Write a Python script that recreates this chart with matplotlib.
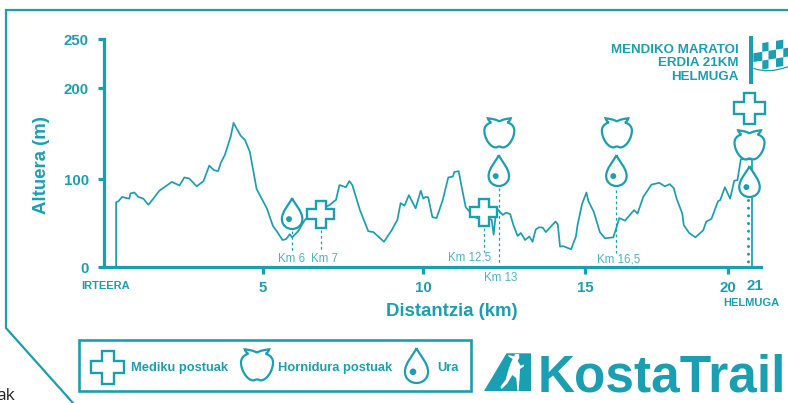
import numpy as np
import matplotlib
matplotlib.use('Agg')
import matplotlib.pyplot as plt
from matplotlib.patches import PathPatch, Polygon, Circle, Rectangle
from matplotlib.path import Path

plt.rcParams['font.family'] = ['Liberation Sans', 'DejaVu Sans']

TEAL = '#1A9FB2'
LIGHT = '#4DB4C4'

# elevation profile
km = [0.41, 0.41, 0.48, 0.60, 0.69, 0.82, 0.86, 0.98, 1.10, 1.26, 1.42, 1.55, 1.76, 2.15, 2.39, 2.54,
      2.69, 2.93, 3.14, 3.32, 3.47, 3.60, 3.68, 3.81, 3.99, 4.08, 4.30, 4.44, 4.59, 4.80, 4.96,
      5.12, 5.31, 5.43, 5.61, 5.72, 5.84, 5.91, 6.10, 6.31, 6.57, 7.09, 7.22, 7.28, 7.39, 7.59,
      7.70, 7.79, 8.03, 8.29, 8.45, 8.78, 9.02, 9.20, 9.30, 9.42, 9.56, 9.77, 9.93, 10.01, 10.08,
      10.16, 10.29, 10.42, 10.61, 10.78, 10.92, 10.97, 11.10, 11.19, 11.32, 11.45, 11.66, 11.97,
      12.12, 12.18, 12.24, 12.30, 12.46, 12.56, 12.69, 12.79, 12.92, 13.02, 13.15, 13.28, 13.38,
      13.48, 13.58, 13.70, 13.79, 14.09, 14.16, 14.23, 14.33, 14.57, 14.72, 14.77, 14.91, 15.05,
      15.12, 15.31, 15.52, 15.70, 15.99, 16.11, 16.20, 16.40, 16.72, 16.84, 17.04, 17.33, 17.60,
      17.80, 17.97, 18.11, 18.21, 18.41, 18.46, 18.65, 18.87, 19.14, 19.25, 19.43, 19.66, 19.74,
      19.90, 20.10, 20.27, 20.40, 20.54, 21.0, 21.0]
altitude = [0, 74, 75, 80, 79, 78, 84, 85, 80, 78, 71, 77, 87, 97, 93, 102,
            101, 92, 98, 115, 110, 109, 118, 127, 147, 162, 148, 143, 130, 89, 78,
            67, 47, 41, 31, 32, 37.5, 34, 41, 54, 61, 71, 75, 76.5, 93.5, 91,
            98, 93.5, 65, 41, 40, 29, 42, 54, 73, 70, 82, 67, 87, 78, 80,
            79.5, 57, 56, 76.5, 102, 103, 108, 109, 92, 68, 63, 56, 56,
            54, 37, 58, 66, 59.5, 62, 60.6, 48, 35.6, 39, 31, 35, 29,
            43, 45.5, 45, 40, 52, 49, 23.5, 24, 20.5, 35, 48, 72, 85,
            75, 63, 40, 33, 34, 46, 56, 53, 65, 61, 80, 94, 96,
            92, 94.5, 90, 78, 61, 48, 39, 34, 42, 52, 55, 75, 76.5,
            91, 78, 98.5, 99, 122, 122, 0]

y_ticks = [0, 100, 200, 250]
x_ticks = [5, 10, 15, 20]

# aid stations: km on the axis, and the label printed next to them
water_km = [5.91, 12.34, 16.10]
food_km = [12.34, 16.10]
medical_km = [6.81, 11.88]
km_labels = ['Km 6', 'Km 7', 'Km 12,5', 'Km 13', 'Km 16,5']
finish_km = 20.84

# the printed axes are not linear, so the anchors come from the tick positions
x_anchor = [0.04, 5, 10, 15, 20, 21, 21.37]
x_pixel = [104.3, 263, 423, 585, 727.7, 752, 761]
y_anchor = [0, 100, 200, 250]
y_pixel = [0, 88, 179, 228]

fig = plt.figure(figsize=(7.88, 4.03), dpi=100)
ax = fig.add_axes([104.3 / 788, (403 - 267.3) / 403, (761 - 104.3) / 788, 228 / 403])
ax.set_xscale('function', functions=(lambda v: np.interp(v, x_anchor, x_pixel),
                                     lambda v: np.interp(v, x_pixel, x_anchor)))
ax.set_yscale('function', functions=(lambda v: np.interp(v, y_anchor, y_pixel),
                                     lambda v: np.interp(v, y_pixel, y_anchor)))
ax.set_xlim(0.04, 21.37)
ax.set_ylim(0, 250)

ax.plot(km, altitude, color=TEAL, lw=1.25, solid_joinstyle='round', clip_on=False)

for side in ['top', 'right']:
    ax.spines[side].set_visible(False)
for side in ['left', 'bottom']:
    ax.spines[side].set_color(TEAL)
    ax.spines[side].set_linewidth(2.3)
ax.minorticks_off()
ax.set_xticks(x_ticks)
ax.set_yticks(y_ticks)
ax.tick_params(axis='x', colors=TEAL, length=5, width=2.3, pad=5, labelsize=10.8)
ax.tick_params(axis='y', colors=TEAL, length=4.2, width=2.3, pad=7, labelsize=10.8)
ax.tick_params(which='minor', length=0)
for lab in ax.get_xticklabels() + ax.get_yticklabels():
    lab.set_fontweight('bold')

# overlay in picture pixels for the frame, icons and logo
ov = fig.add_axes([0, 0, 1, 1], zorder=5)
ov.set_xlim(0, 788)
ov.set_ylim(403, 0)
ov.axis('off')
ov.patch.set_alpha(0)


def to_px(k):
    return ax.transData.transform((k, 0))[0]


def cross(cx, cy, size, lw=1.7):
    a = size / 2
    b = size * 0.19
    pts = [(-b, -a), (b, -a), (b, -b), (a, -b), (a, b), (b, b), (b, a), (-b, a), (-b, b), (-a, b), (-a, -b), (-b, -b)]
    ov.add_patch(Polygon([(cx + p[0], cy + p[1]) for p in pts], closed=True, fc='white', ec=TEAL, lw=lw,
                         joinstyle='miter'))


def drop(cx, top, h, lw=1.6):
    pts = [(0, 0), (-0.08, 0.2), (-0.33, 0.42), (-0.33, 0.68), (-0.33, 0.88), (-0.17, 1), (0, 1),
           (0.17, 1), (0.33, 0.88), (0.33, 0.68), (0.33, 0.42), (0.08, 0.2), (0, 0)]
    codes = [Path.MOVETO] + [Path.CURVE4] * 12
    ov.add_patch(PathPatch(Path([(cx + p[0] * h, top + p[1] * h) for p in pts], codes),
                           fc='white', ec=TEAL, lw=lw))
    ov.add_patch(Circle((cx - 0.1 * h, top + 0.68 * h), 0.095 * h, fc=TEAL, ec='none'))


def apple(cx, top, w, lw=1.6):
    left = [(0, 0.12), (-0.1, 0.04), (-0.25, 0.03), (-0.38, 0.01), (-0.36, 0.07), (-0.33, 0.12), (-0.27, 0.15),
            (-0.45, 0.2), (-0.5, 0.32), (-0.5, 0.42), (-0.5, 0.68), (-0.3, 0.98), (-0.12, 0.98),
            (-0.07, 0.98), (-0.05, 0.95), (0, 0.95)]
    right = [(-p[0], p[1]) for p in left[::-1]][1:]
    pts = left + right
    codes = [Path.MOVETO] + [Path.CURVE4] * (len(pts) - 1)
    ov.add_patch(PathPatch(Path([(cx + p[0] * w, top + p[1] * w) for p in pts], codes),
                           fc='white', ec=TEAL, lw=lw))


def label(x, y, s, size, ha='center', weight='bold', color=TEAL, **kw):
    ov.text(x, y, s, fontsize=size, ha=ha, va='center', fontweight=weight, color=color, **kw)


# outer frame with the cut corner
ov.plot([788, 6, 6, 73], [10, 10, 328, 403], color=TEAL, lw=1.6, solid_joinstyle='miter', clip_on=False)
label(15, 396, 'ak', 12.5, ha='right', weight='normal', color='#222222', family='Open Sans')

label(42, 165, 'Altuera (m)', 13.4, rotation=90)
label(452, 312, 'Distantzia (km)', 13.4)
label(105.5, 286, 'IRTEERA', 8)
label(755, 286, '21', 10.8)
label(751, 302.5, 'HELMUGA', 8)

# dashed leaders from the icons towards the axis
leaders = [(water_km[0], 231, 252), (medical_km[0], 230, 252), (medical_km[1], 228, 252),
           (water_km[1], 188, 265), (water_km[2], 190, 253)]
for k, y0, y1 in leaders:
    ov.plot([to_px(k)] * 2, [y0, y1], color=TEAL, lw=0.9, ls=(0, (2.2, 2.2)))
ov.plot([to_px(finish_km)] * 2, [200, 265], color=TEAL, lw=2.2, ls=(0, (0.01, 2.5)), dash_capstyle='round')

for k in medical_km:
    cross(to_px(k), 214 if k < 10 else 212, 27)
for k in water_km:
    drop(to_px(k), 198 if k < 10 else 155, 31)
for k in food_km:
    apple(to_px(k) + 0.5, 118, 30)

# finish stack
cross(749.5, 108, 31)
apple(749.5, 130, 30)
drop(749.5, 166, 31)

for s, x, y in zip(km_labels, [291.5, 325, 469.5, 501, 618.5], [259, 259, 258, 278, 259]):
    label(x, y, s, 8.3, weight='normal', color=LIGHT)

for s, y in zip(['MENDIKO MARATOI', 'ERDIA 21KM', 'HELMUGA'], [50, 63.5, 77]):
    label(738.5, y, s, 9.6, ha='right')

# finish flag
ov.add_patch(Rectangle((749.5, 36), 3.5, 48, fc=TEAL, ec='none'))
col_x = [753.3, 762.3, 768.5, 776, 783.3, 788.7]


def flag_y(x, row):
    return 44.5 + row * 8.8 - (x - 753) * 0.16


for i in range(5):
    for j in range(3):
        if (i + j) % 2 == 1:
            x0, x1 = col_x[i], col_x[i + 1]
            ov.add_patch(Polygon([(x0, flag_y(x0, j)), (x1, flag_y(x1, j)), (x1, flag_y(x1, j + 1)),
                                  (x0, flag_y(x0, j + 1))], closed=True, fc=TEAL, ec='none'))
ov.add_patch(PathPatch(Path([(753.3, 68.3), (768, 74), (788, 66.7)], [Path.MOVETO, Path.CURVE3, Path.CURVE3]),
                       fc='none', ec=TEAL, lw=0.9))

# legend box
ov.add_patch(Rectangle((79.5, 339.5), 391.5, 51.5, fc='none', ec=TEAL, lw=1.9))
cross(108, 367, 33)
label(131.5, 368, 'Mediku postuak', 9.3, ha='left')
apple(257, 349, 32)
label(278.5, 368, 'Hornidura postuak', 9.3, ha='left')
drop(416.5, 348, 35)
label(437, 368, 'Ura', 9.3, ha='left')

# logo
ov.add_patch(Polygon([(484, 391), (506.5, 353.3), (531, 353.3), (531, 391)], closed=True, fc=TEAL, ec='none'))
runner = [(100, 30), (118, 34), (120, 27), (132, 27), (133, 38), (128, 48), (137, 62), (146, 58), (147, 64), (135, 72),
          (134, 95), (131, 137), (127, 137), (124, 100), (112, 90), (97, 115), (80, 132), (76, 126), (92, 104),
          (100, 75), (108, 52), (113, 42), (100, 34)]
ov.add_patch(Polygon([(475 + p[0] / 3, 345 + p[1] / 3) for p in runner], closed=True, fc='white', ec='none'))
ov.text(537.5, 391, 'KostaTrail', fontsize=37, fontweight='bold', color=TEAL, ha='left', va='baseline')

fig.savefig('out.png', dpi=100)
